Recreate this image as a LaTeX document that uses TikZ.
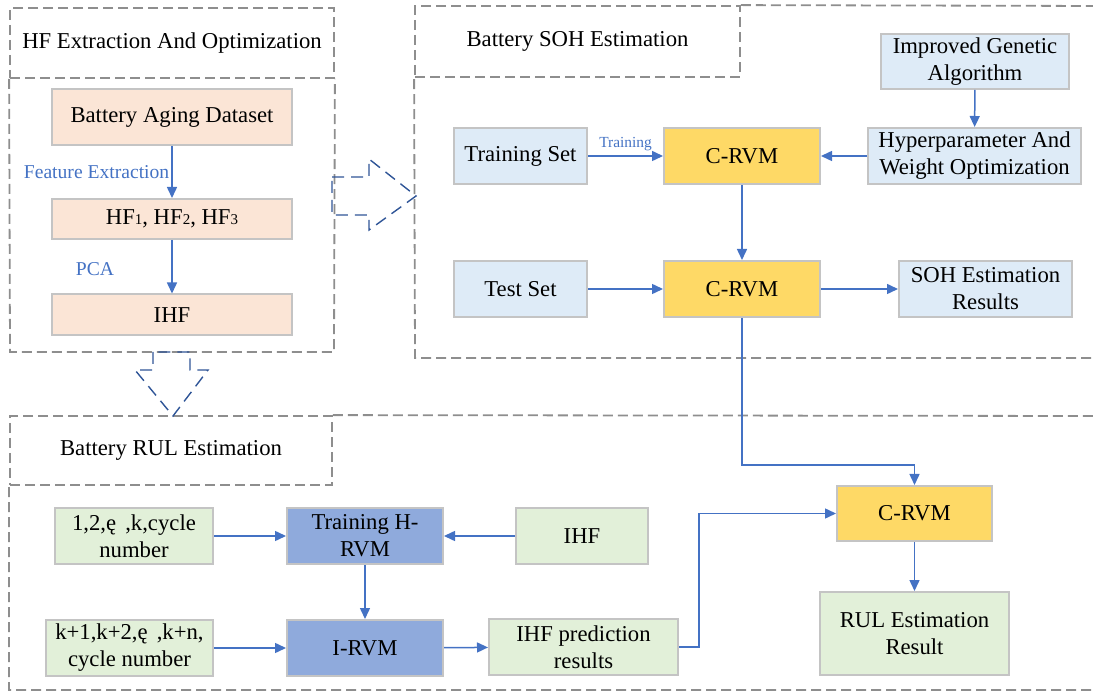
\documentclass[tikz,border=0pt]{standalone}
\usepackage{fontspec}
\setmainfont{Liberation Serif}
\usetikzlibrary{arrows.meta}

\definecolor{peach}{HTML}{FBE5D6}
\definecolor{paleblue}{HTML}{DEEBF7}
\definecolor{gold}{HTML}{FED966}
\definecolor{palegreen}{HTML}{E2F0D9}
\definecolor{rvmblue}{HTML}{8FAADC}
\definecolor{flowblue}{HTML}{4472C4}
\definecolor{darkblue}{HTML}{2F5597}
\definecolor{boxline}{HTML}{C4C4C4}
\definecolor{panelgray}{HTML}{8E8E8E}
\newcommand\hfsub[1]{{\fontsize{15}{15}\selectfont #1}}

\begin{document}
\begin{tikzpicture}[x=1pt,y=-1pt,panel/.style={draw=panelgray,line width=1.8pt,dash pattern=on 10pt off 5pt},title/.style={panel,inner sep=0pt,font=\fontsize{22.7}{27}\selectfont},hollow/.style={draw=darkblue,line width=1.4pt,dash pattern=on 12pt off 7pt},box/.style={draw=boxline,line width=2pt,minimum height=56pt,inner sep=0pt,align=center,font=\fontsize{22.7}{27}\selectfont},hfbox/.style={box,fill=peach},sohbox/.style={box,fill=paleblue},fitbox/.style={box,fill=gold},rulbox/.style={box,fill=palegreen},rvmbox/.style={box,fill=rvmblue},flow/.style={draw=flowblue,line width=1.5pt,-{Triangle[length=11pt,width=10pt]}},note/.style={text=flowblue,font=\fontsize{19.6}{22}\selectfont}]
\useasboundingbox (0,0) rectangle (1093,692);
\clip (0,0) rectangle (1093,692);
\node[title,minimum width=324pt,minimum height=70pt] (hftitle) at (172,43) {HF Extraction And Optimization};
\node[title,minimum width=325pt,minimum height=71pt] (sohtitle) at (577.5,41.5) {Battery SOH Estimation};
\node[title,minimum width=322pt,minimum height=69pt] (rultitle) at (171,450.5) {Battery RUL Estimation};
\draw[panel] (hftitle.south west) -- (10,352) -- (334,352) -- (hftitle.south east);
\draw[panel] (sohtitle.north east) -- (1100,6) -- (1100,358) -- (415,358) -- (sohtitle.south west);
\draw[panel] (rultitle.north east) -- (1100,416) -- (1100,690) -- (9,690) -- (rultitle.south west);
\draw[hollow] (332,177) -- (369,177) -- (369,159) -- (416,196) -- (369,230) -- (369,215) -- (332,215) -- cycle;
\draw[hollow] (153,352) -- (153,370) -- (135,370) -- (173,416) -- (208,370) -- (190,370) -- (190,352) -- cycle;
\node[hfbox,minimum width=240pt] (aging) at (172,117) {Battery Aging Dataset};
\node[hfbox,minimum width=240pt,minimum height=40pt] (hfset) at (172,219) {HF\hfsub{1}, HF\hfsub{2}, HF\hfsub{3}};
\node[hfbox,minimum width=240pt,minimum height=41pt] (ihf) at (172,315) {IHF};
\node[sohbox,minimum width=188pt,minimum height=55pt] (iga) at (975,61.5) {Improved Genetic\\Algorithm};
\node[sohbox,minimum width=213pt] (hyper) at (974.5,156) {Hyperparameter And\\Weight Optimization};
\node[sohbox,minimum width=133pt] (trainset) at (520.5,156) {Training Set};
\node[fitbox,minimum width=156pt] (crvma) at (742,156) {C-RVM};
\node[sohbox,minimum width=133pt] (testset) at (520.5,289) {Test Set};
\node[fitbox,minimum width=156pt] (crvmb) at (742,289) {C-RVM};
\node[sohbox,minimum width=173pt] (sohres) at (985.5,289) {SOH Estimation\\Results};
\node[rulbox,minimum width=158pt] (cyclek) at (134,536) {1,2,ę\hspace{0.4em},k,cycle\\number};
\node[rvmbox,minimum width=156pt] (trainh) at (365,536) {Training H-\\RVM};
\node[rulbox,minimum width=132pt] (ihfr) at (582,536) {IHF};
\node[rulbox,minimum width=167pt] (cyclen) at (129.5,648) {k+1,k+2,ę\hspace{0.4em},k+n,\\cycle number};
\node[rvmbox,minimum width=156pt] (irvm) at (365,648) {I-RVM};
\node[rulbox,minimum width=189pt] (ihfpred) at (583.5,647) {IHF prediction\\results};
\node[fitbox,minimum width=155pt,minimum height=55pt] (crvmc) at (914.5,513.5) {C-RVM};
\node[rulbox,minimum width=189pt,minimum height=83pt] (rulres) at (914.5,633.5) {RUL Estimation\\Result};
\draw[flow] (aging) -- node[note,midway,left,inner sep=2pt] {Feature Extraction} (hfset);
\draw[flow] (hfset) -- (ihf);
\node[note] (pca) at (95,269) {PCA};
\draw[flow] (iga) -- (hyper);
\draw[flow] (trainset) -- node[note,midway,above,inner sep=4pt,font=\fontsize{15.4}{18}\selectfont] {Training} (crvma);
\draw[flow] (hyper) -- (crvma);
\draw[flow] (crvma) -- (crvmb);
\draw[flow] (testset) -- (crvmb);
\draw[flow] (crvmb) -- (sohres);
\draw[flow] (crvmb.south) -- ++(0,147) -| (crvmc.north);
\draw[flow] (cyclek) -- (trainh);
\draw[flow] (ihfr) -- (trainh);
\draw[flow] (trainh) -- (irvm);
\draw[flow] (cyclen) -- (irvm);
\draw[flow] (irvm) -- (ihfpred);
\draw[flow] (ihfpred.east) -- ++(20,0) |- (crvmc.west);
\draw[flow] (crvmc) -- (rulres);
\end{tikzpicture}
\end{document}
